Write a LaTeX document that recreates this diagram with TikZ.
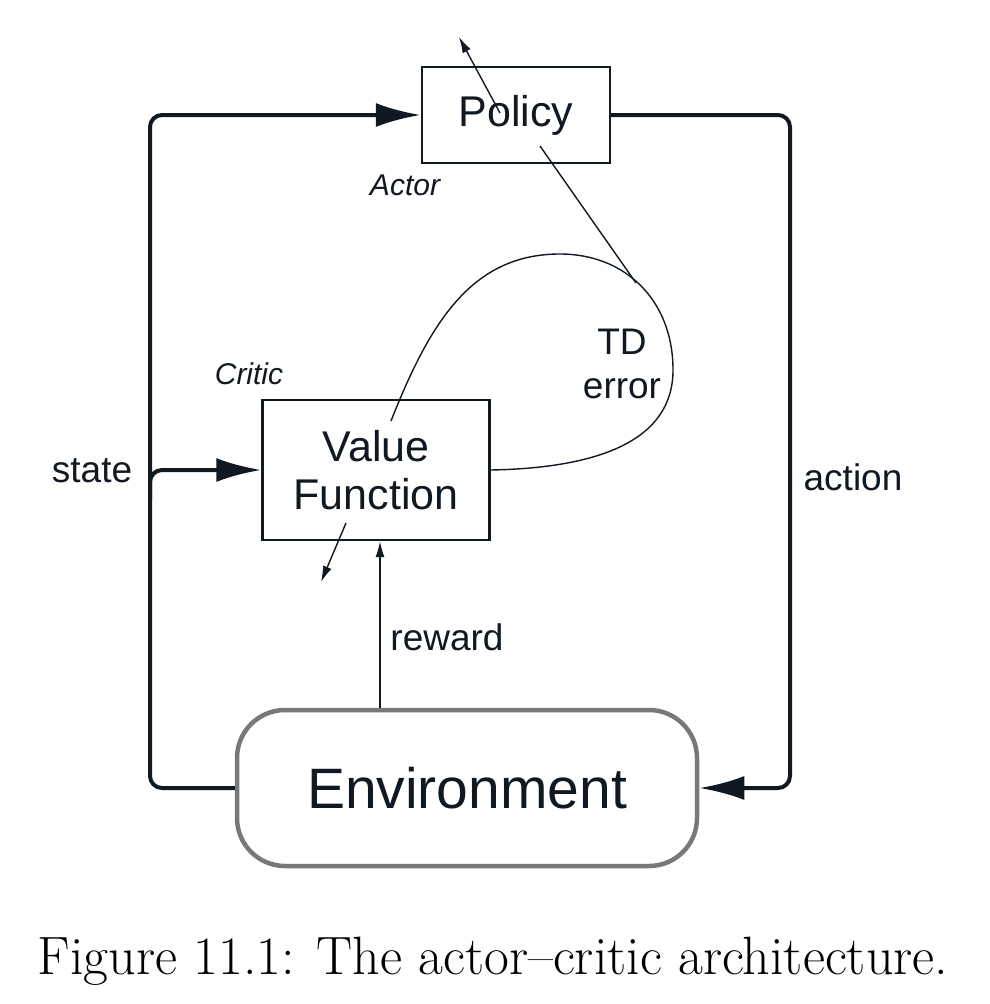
\documentclass[tikz,border=0pt]{standalone}
\usepackage{fontspec}
\newfontfamily\diag{Liberation Sans}
\usetikzlibrary{arrows.meta,calc}
\definecolor{ink}{RGB}{16,24,34}
\definecolor{envgray}{RGB}{120,120,122}
\begin{document}
\begin{tikzpicture}[x=1pt,y=-1pt,
  box/.style={draw=ink,line width=2.4pt,inner sep=0pt,font=\diag\fontsize{43}{48}\selectfont,text=ink},
  envbox/.style={draw=envgray,line width=4.5pt,rounded corners=48pt,inner sep=0pt,font=\diag\fontsize{57}{60}\selectfont,text=ink},
  lbl/.style={font=\diag\fontsize{37}{44}\selectfont,text=ink,inner sep=0pt},
  ilbl/.style={font=\diag\itshape\fontsize{30}{34}\selectfont,text=ink,inner sep=0pt},
  bigline/.style={draw=ink,line width=4pt,rounded corners=12pt},
  bigtip/.style={-{Latex[length=45pt,width=24pt]}},
  thinline/.style={draw=ink,line width=1.4pt},
  smalltip/.style={-{Latex[length=16pt,width=9pt]}}
]
\useasboundingbox (0,0) rectangle (989,1004);

% nodes
\node[box,minimum width=188pt,minimum height=96pt] (policy) at (516,115) {\raisebox{-2pt}{Policy}};
\node[box,minimum width=227pt,minimum height=140pt,align=center] (vf) at (376,470) {Value\\Function};
\node[envbox,minimum width=460pt,minimum height=156pt] (env) at (467,788) {Environment};

\node[ilbl] (actor) at (405,185) {Actor};
\node[ilbl] (critic) at (249,374) {Critic};
\node[lbl] (state) at (92,471) {state};
\node[lbl] (action) at (853,477) {action};
\node[lbl] (reward) at (447,637) {reward};
\node[lbl,align=center] (td) at (622,364) {TD\\error};

% coordinates
\coordinate (lc) at (150,115);
\coordinate (rc) at (790,115);
\coordinate (bc) at (150,500);
\coordinate (rw) at (380,0);
\coordinate (pin) at (500,113);
\coordinate (pout) at (459,37);
\coordinate (tdin) at (540,146);
\coordinate (tdj) at (636,283);
\coordinate (vin) at (391,421);
\coordinate (vout) at (346,523);
\coordinate (vtip) at (321,582);

% thick loops
\draw[bigline,bigtip] (env.west) -| (lc) -- (policy.west);
\draw[bigline,bigtip] (bc) |- (vf.west);
\draw[bigline,bigtip] (policy.east) -- (rc) |- (env.east);

% reward
\draw[thinline,smalltip] (env.north -| rw) -- (vf.south -| rw);

% actor/critic updates
\draw[thinline,smalltip] (pin) -- (pout);
\draw[thinline,smalltip] (vout) -- (vtip);

% TD error loop
\draw[thinline] (vf.east) .. controls (600,468) and (673,440) .. (673,370)
   .. controls (673,300) and (625,254) .. (560,254)
   .. controls (472,254) and (430,322) .. (vin);
\draw[thinline] (tdin) -- (tdj);

% caption
\node[font=\fontsize{54}{58}\selectfont,inner sep=0pt] (cap) at (493,961) {Figure 11.1: The actor--critic architecture.};
\end{tikzpicture}
\end{document}
